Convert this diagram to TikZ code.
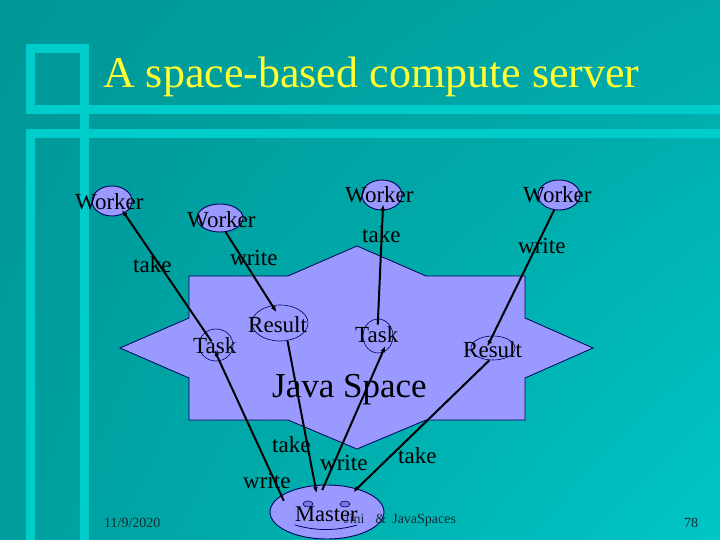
\documentclass[tikz,border=0pt]{standalone}
\usepackage{fontspec}
\setmainfont{Liberation Serif}
\usetikzlibrary{shapes.geometric,arrows.meta,shadings}
\definecolor{bgUL}{RGB}{0,150,150}
\definecolor{bgUR}{RGB}{0,168,168}
\definecolor{bgLL}{RGB}{0,158,158}
\definecolor{bgLR}{RGB}{0,198,198}
\definecolor{bar}{RGB}{0,204,204}
\definecolor{lav}{RGB}{153,153,255}
\definecolor{navy}{RGB}{0,0,90}
\definecolor{ttl}{RGB}{255,255,51}
\definecolor{foot}{RGB}{20,45,50}
\tikzset{
  lbl/.style={font=\fontsize{23}{23}\selectfont, anchor=base west, inner sep=0pt, text=black},
  footlbl/.style={font=\fontsize{14}{14}\selectfont, anchor=base west, inner sep=0pt, text=foot},
  wkell/.style={ellipse, draw=navy, line width=0.9pt, fill=lav, inner sep=0pt},
  inell/.style={ellipse, draw=navy, line width=0.6pt, inner sep=0pt},
  arr/.style={line width=2pt, -{Latex[length=6pt,width=5pt]}},
}
\begin{document}
\begin{tikzpicture}[x=1pt,y=-1pt]
\useasboundingbox (0,0) rectangle (720,540);
\shade[upper left=bgUL, upper right=bgUR, lower left=bgLL, lower right=bgLR] (0,0) rectangle (720,540);
% frame bars
\fill[bar] (26,44) rectangle (89,53);
\fill[bar] (26,44) rectangle (35,114);
\fill[bar] (80,44) rectangle (89,540);
\fill[bar] (26,105) rectangle (720,114);
\fill[bar] (26,129) rectangle (720,138);
\fill[bar] (26,129) rectangle (35,540);
% title
\node[anchor=base west, inner sep=0pt, text=ttl, font=\fontsize{44}{44}\selectfont] (title) at (103,88) {A space-based compute server};
% star (Java Space)
\filldraw[fill=lav, draw=navy, line width=0.8pt]
  (189,276) -- (288,276) -- (357,246) -- (426,276) -- (525,276) -- (525,318) -- (593,348) -- (525,378) -- (525,420) -- (426,420) -- (357,449) -- (288,420) -- (189,420) -- (189,378) -- (120,348) -- (189,318) -- cycle;
% workers
\node[wkell, minimum width=40pt, minimum height=30pt] (w1) at (112,201) {};
\node[lbl] (w1t) at (75,210) {Worker};
\node[wkell, minimum width=46pt, minimum height=28pt] (w2) at (220,218) {};
\node[lbl] (w2t) at (187,227) {Worker};
\node[wkell, minimum width=40pt, minimum height=30pt] (w3) at (382,195) {};
\node[lbl] (w3t) at (345,203) {Worker};
\node[wkell, minimum width=42pt, minimum height=30pt] (w4) at (559,195) {};
\node[lbl] (w4t) at (523,203) {Worker};
% entries in the space
\node[inell, minimum width=34pt, minimum height=32pt] (t1) at (216,345) {};
\node[lbl] (t1t) at (193,353) {Task};
\node[inell, minimum width=56pt, minimum height=36pt] (r1) at (280,323) {};
\node[lbl] (r1t) at (248,332) {Result};
\node[inell, minimum width=30pt, minimum height=34pt] (t2) at (378,336) {};
\node[lbl] (t2t) at (355,342) {Task};
\node[inell, minimum width=44pt, minimum height=24pt] (r2) at (493,348) {};
\node[lbl] (r2t) at (463,357) {Result};
\node[lbl, font=\fontsize{35}{35}\selectfont] (js) at (272,397) {Java Space};
% master
\node[wkell, minimum width=114pt, minimum height=54pt] (m) at (327,512) {};
\node[ellipse, draw=navy, fill={rgb,255:red,120;green,120;blue,225}, line width=0.6pt, minimum width=10pt, minimum height=6pt, inner sep=0pt] (eyeL) at (308,504) {};
\node[ellipse, draw=navy, fill={rgb,255:red,120;green,120;blue,225}, line width=0.6pt, minimum width=10pt, minimum height=6pt, inner sep=0pt] (eyeR) at (345,504) {};
\draw[navy, line width=0.8pt] (295,525) .. controls (315,531) and (337,531) .. (357,525);
\node[lbl, font=\fontsize{22.5}{22.5}\selectfont] (mt) at (295,521) {Master};
% footer
\node[footlbl] (date) at (104,527) {11/9/2020};
\node[footlbl] (jini) at (344,523) {Jini\hspace{11pt}\&\hspace{6pt}JavaSpaces};
\node[footlbl] (pg) at (684,527) {78};
% arrows
\draw[arr, shorten <=-11pt, shorten >=-4pt] (t1.130) -- (w1.-45);
\draw[arr, shorten >=-8pt] (w2.-68) -- (r1.114);
\draw[arr, shorten <=-6pt, shorten >=-6pt] (t2.90) -- (w3.-87);
\draw[arr, shorten >=-12pt] (w4.-108) -- (r2.92);
\draw[arr, shorten <=-6pt, shorten >=-12pt] (m.160) -- (t1.-78);
\draw[arr, shorten >=-8pt] (r1.-67) -- (m.114);
\draw[arr, shorten <=-6pt, shorten >=-7pt] (m.95) -- (t2.-75);
\draw[arr, shorten >=-5pt] (r2.-106) -- (m.38);
% arrow labels
\node[lbl] (l1) at (133,272) {take};
\node[lbl] (l2) at (230,265) {write};
\node[lbl] (l3) at (362,242) {take};
\node[lbl] (l4) at (518,253) {write};
\node[lbl] (l5) at (272,452) {take};
\node[lbl] (l6) at (320,470) {write};
\node[lbl] (l7) at (398,463) {take};
\node[lbl] (l8) at (243,488) {write};
\end{tikzpicture}
\end{document}
